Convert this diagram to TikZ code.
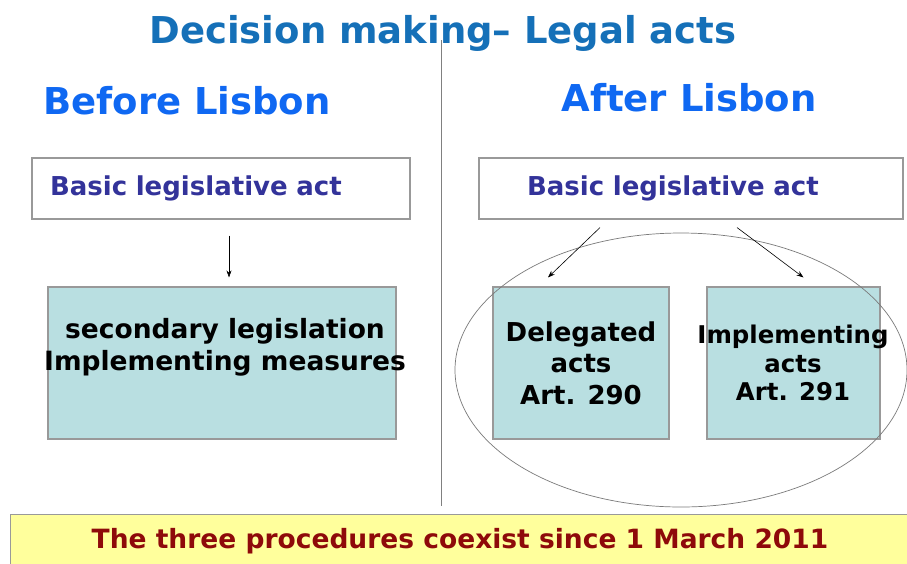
\documentclass[tikz,border=0pt]{standalone}
\usepackage{fontspec}
\setmainfont{DejaVu Sans}
\usepackage{xcolor}
\definecolor{titleblue}{HTML}{1570B8}
\definecolor{headblue}{HTML}{0F68F2}
\definecolor{actblue}{HTML}{33339A}
\definecolor{tealfill}{HTML}{B9DFE1}
\definecolor{notefill}{HTML}{FFFF9C}
\definecolor{notered}{HTML}{8E0A0A}
\definecolor{framegray}{HTML}{999999}
\usepackage{tikz}
\usetikzlibrary{arrows.meta,positioning}

\begin{document}
\begin{tikzpicture}[x=1pt,y=-1pt,
    heading/.style={font=\bfseries\fontsize{37}{42}\selectfont},
    actbox/.style={draw=framegray, line width=1.1pt, fill=white, minimum height=61pt, inner ysep=0pt, align=left,
      font=\bfseries\fontsize{26}{30}\selectfont, text=actblue},
    tealbox/.style={draw=framegray, line width=1.1pt, fill=tealfill, minimum height=152pt, inner sep=0pt},
    boxtext/.style={align=center, font=\bfseries\fontsize{26.5}{32}\selectfont},
    arr/.style={-{Stealth[length=7pt,width=5pt]}, line width=0.6pt}]
  \path[use as bounding box, fill=white] (0,0) rectangle (907,563);
  % headings
  \node[heading, text=titleblue] (title) at (443,33) {Decision making– Legal acts};
  \draw[gray, line width=0.7pt] (441,40) -- (441,506);
  \node[heading, text=headblue] (before) at (187,101) {Before Lisbon};
  \node[heading, text=headblue] (after) at (689,98) {After Lisbon};
  % before Lisbon
  \node[actbox, minimum width=378pt, text width=342pt, inner xsep=18pt] (basicL) at (221,188.5) {Basic legislative act};
  \node[tealbox, minimum width=348pt] (secL) at (222,363) {};
  \node[boxtext] (secLtext) at (225,347) {secondary legislation\\Implementing measures};
  \draw[arr, shorten <=16pt, shorten >=9pt] ([xshift=8pt]basicL.south) -- ([xshift=7pt]secL.north);
  % after Lisbon
  \node[actbox, minimum width=424pt, text width=328pt, inner xsep=48pt] (basicR) at (691,188.5) {Basic legislative act};
  \node[tealbox, minimum width=176pt] (deleg) at (581,363) {};
  \node[boxtext, font=\bfseries\fontsize{26}{31.5}\selectfont] (delegtext) at (581,363) {Delegated\\acts\\Art. 290};
  \node[tealbox, minimum width=173pt] (impl) at (793.5,363) {};
  \node[boxtext, font=\bfseries\fontsize{24.4}{28.5}\selectfont] (impltext) at (793,363) {Implementing\\acts\\Art. 291};
  \draw[framegray!80!black, line width=0.7pt] (681,370) ellipse [x radius=226pt, y radius=137pt];
  \draw[arr] ([xshift=-91pt,yshift=-8pt]basicR.south) -- ([xshift=-33pt,yshift=9pt]deleg.north);
  \draw[arr] ([xshift=46pt,yshift=-8pt]basicR.south) -- ([xshift=10pt,yshift=9pt]impl.north);
  % footer
  \node[draw=framegray, line width=1pt, fill=notefill, minimum width=900pt, minimum height=50pt, inner sep=0pt] (note) at (460,539) {};
  \node[font=\bfseries\fontsize{26.5}{30}\selectfont, text=notered] (notetext) at (460,541) {The three procedures coexist since 1 March 2011};
\end{tikzpicture}
\end{document}
